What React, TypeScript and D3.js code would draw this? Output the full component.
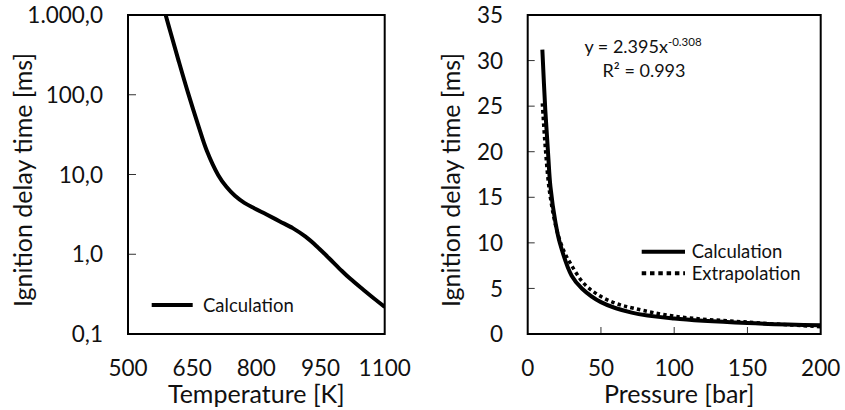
import React from "react";
import * as d3 from "d3";

// ---------- Data ----------
const tempK: number[] = [588, 600, 617, 640, 664, 684, 711, 730, 750, 772, 796, 824, 855, 886, 915, 941, 970, 1000, 1019, 1050, 1075, 1100];
const tempTau: number[] = [1000, 589, 282, 107, 41.7, 20, 9.8, 7.0, 5.4, 4.4, 3.75, 3.15, 2.58, 2.11, 1.66, 1.26, 0.891, 0.617, 0.495, 0.359, 0.279, 0.219];

const presCalcP: number[] = [10, 12, 14, 15.5, 19, 22, 30, 37, 50, 71, 100, 150, 200];
const presCalcTau: number[] = [31.2, 24.6, 19.6, 16.2, 12.2, 9.95, 6.4, 5.0, 3.5, 2.35, 1.7, 1.2, 0.95];

const presExtP: number[] = [10, 12, 15, 20, 25, 29, 38, 48, 60, 73, 100, 150, 200];
const presExtTau: number[] = [25.3, 20.5, 15.5, 11.3, 9.0, 7.8, 5.6, 4.3, 3.37, 2.8, 1.95, 1.3, 0.8];

const leftXTicks: number[] = [500, 650, 800, 950, 1100];
const leftYTicks: number[] = [0.1, 1, 10, 100, 1000];
const leftYTickLabels: string[] = ["0,1", "1,0", "10,0", "100,0", "1.000,0"];
const rightXTicks: number[] = [0, 50, 100, 150, 200];
const rightYTicks: number[] = [0, 5, 10, 15, 20, 25, 30, 35];

const FONT = "Lato, 'Open Sans', sans-serif";
const TXT = "#111";

export default function App() {
  const top = 15, bottom = 334;
  // left panel
  const lx0 = 128, lx1 = 384.7;
  const xL = d3.scaleLinear().domain([500, 1100]).range([lx0, lx1]);
  const yL = d3.scaleLog().domain([0.1, 1000]).range([bottom, top]);
  // right panel
  const rx0 = 527.7, rx1 = 820.7;
  const xR = d3.scaleLinear().domain([0, 200]).range([rx0, rx1]);
  const yR = d3.scaleLinear().domain([0, 35]).range([bottom, top]);

  const smooth = d3.curveCatmullRom.alpha(0.5);
  const lineL = d3.line<number>().x((_, i) => xL(tempK[i])).y((d) => yL(d)).curve(smooth);
  const lineRC = d3.line<number>().x((_, i) => xR(presCalcP[i])).y((d) => yR(d)).curve(smooth);
  const lineRE = d3.line<number>().x((_, i) => xR(presExtP[i])).y((d) => yR(d)).curve(smooth);

  const tickFs = 22.5;
  const titleFs = 25;
  const legFs = 18.5;

  return (
    <svg width={845} height={410} style={{ position: "absolute", left: 0, top: 0, background: "#fff" }} fontFamily={FONT}>
      <defs>
        <clipPath id="clipL"><rect x={lx0} y={top} width={lx1 - lx0} height={bottom - top} /></clipPath>
        <clipPath id="clipR"><rect x={rx0} y={top - 2} width={rx1 - rx0} height={bottom - top + 2} /></clipPath>
      </defs>

      {/* ---------- Left panel ---------- */}
      {leftYTicks.slice(1, -1).map((t) => (
        <line key={"lyt" + t} x1={lx0} x2={lx0 + 8} y1={yL(t)} y2={yL(t)} stroke="#333" strokeWidth={1} />
      ))}
      <path d={lineL(tempTau) || ""} fill="none" stroke="#000" strokeWidth={4} clipPath="url(#clipL)" />
      <rect x={lx0} y={top} width={lx1 - lx0} height={bottom - top} fill="none" stroke="#000" strokeWidth={2} />
      {leftYTicks.map((t, i) => (
        <text key={"lyl" + t} x={103} y={yL(t)} dy="0.36em" textAnchor="end" fontSize={tickFs} fill={TXT}>{leftYTickLabels[i]}</text>
      ))}
      {leftXTicks.map((t) => (
        <text key={"lxl" + t} x={xL(t)} y={376} textAnchor="middle" fontSize={tickFs} fill={TXT}>{t}</text>
      ))}
      <text x={(lx0 + lx1) / 2} y={402.5} textAnchor="middle" fontSize={titleFs} fill={TXT}>Temperature [K]</text>
      <text transform={`translate(31.5,180) rotate(-90)`} textAnchor="middle" fontSize={titleFs} fill={TXT}>Ignition delay time [ms]</text>
      {/* legend */}
      <line x1={151.7} x2={192.7} y1={305} y2={305} stroke="#000" strokeWidth={4} />
      <text x={203} y={311.5} fontSize={legFs} fill={TXT}>Calculation</text>

      {/* ---------- Right panel ---------- */}
      {rightYTicks.slice(1, -1).map((t) => (
        <line key={"ryt" + t} x1={rx0} x2={rx0 + 7} y1={yR(t)} y2={yR(t)} stroke="#333" strokeWidth={1} />
      ))}
      {rightXTicks.slice(1, -1).map((t) => (
        <line key={"rxt" + t} x1={xR(t)} x2={xR(t)} y1={bottom} y2={bottom - 7} stroke="#333" strokeWidth={1} />
      ))}
      <path d={lineRE(presExtTau) || ""} fill="none" stroke="#000" strokeWidth={3.5} strokeDasharray="3.5 3.2" clipPath="url(#clipR)" />
      <path d={lineRC(presCalcTau) || ""} fill="none" stroke="#000" strokeWidth={4} clipPath="url(#clipR)" />
      <rect x={rx0} y={top} width={rx1 - rx0} height={bottom - top} fill="none" stroke="#000" strokeWidth={2} />
      {rightYTicks.map((t) => (
        <text key={"ryl" + t} x={503} y={yR(t)} dy="0.36em" textAnchor="end" fontSize={tickFs} fill={TXT}>{t}</text>
      ))}
      {rightXTicks.map((t) => (
        <text key={"rxl" + t} x={xR(t)} y={376} textAnchor="middle" fontSize={tickFs} fill={TXT}>{t}</text>
      ))}
      <text x={(rx0 + rx1) / 2 + 5} y={402.5} textAnchor="middle" fontSize={titleFs} fill={TXT}>Pressure [bar]</text>
      <text transform={`translate(460,180) rotate(-90)`} textAnchor="middle" fontSize={titleFs} fill={TXT}>Ignition delay time [ms]</text>
      {/* equation */}
      <text x={643} y={53.3} textAnchor="middle" fontSize={18} fill={TXT}>
        y = 2.395x<tspan fontSize={11.5} dy={-7}>-0.308</tspan>
      </text>
      <text x={644} y={77.3} textAnchor="middle" fontSize={18} fill={TXT}>R² = 0.993</text>
      {/* legend */}
      <line x1={641.7} x2={685} y1={251.7} y2={251.7} stroke="#000" strokeWidth={4} />
      <text x={691.7} y={258.3} fontSize={legFs} fill={TXT}>Calculation</text>
      <line x1={641.7} x2={685} y1={273.3} y2={273.3} stroke="#000" strokeWidth={4} strokeDasharray="4.5 3.8" />
      <text x={691.7} y={280} fontSize={legFs} fill={TXT}>Extrapolation</text>
    </svg>
  );
}
